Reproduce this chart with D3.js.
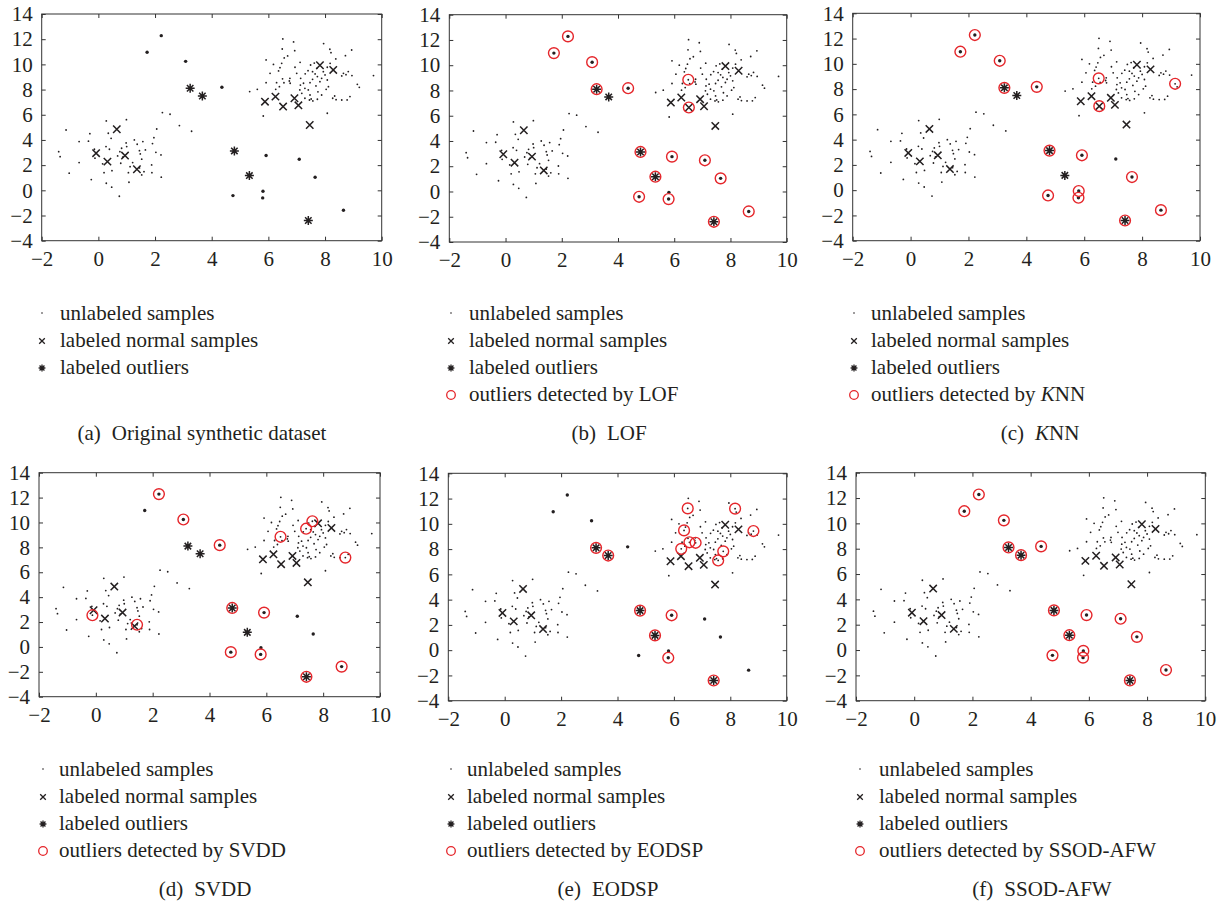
<!DOCTYPE html>
<html>
<head>
<meta charset="utf-8">
<script src="https://cdn.jsdelivr.net/npm/d3@7"></script>
<style>
  html, body { margin: 0; padding: 0; background: #fff; }
  svg text { font-family: "Liberation Serif", "Times New Roman", serif; fill: #231f20; }
</style>
</head>
<body>
<svg id="chart" width="1222" height="904"></svg>
<script>
// ---- data -------------------------------------------------------------
const xTicks = [-2, 0, 2, 4, 6, 8, 10];
const yTicks = [-4, -2, 0, 2, 4, 6, 8, 10, 12, 14];

// unlabeled samples, lower-left cloud
const clusterLow = [
  [-1.14,4.79],[0.28,5.51],[0.99,5.61],[-0.30,4.50],[0.35,4.53],[0.45,4.13],[-0.68,3.87],[-0.35,3.90],
  [2.06,4.87],[1.96,4.18],[1.91,3.71],[-1.40,3.07],[-1.35,2.67],[-0.68,2.20],[-1.03,1.36],[-0.25,0.85],
  [0.28,0.56],[0.47,0.25],[0.74,-0.47],[1.08,0.64],[2.22,1.04],[1.89,1.40],[1.88,2.02],[2.21,2.81],
  [2.03,3.02],[1.66,3.21],[1.57,3.87],[1.27,4.00],[1.37,3.66],[1.45,3.15],[1.48,2.89],[0.98,3.76],
  [0.82,3.34],[0.76,3.07],[1.00,3.47],[0.39,3.26],[0.27,3.47],[0.15,2.10],[0.20,1.40],[0.48,1.56],
  [0.79,2.15],[1.12,1.88],[1.21,2.20],[1.53,2.47],[1.61,1.48],[1.53,1.22],[1.06,1.40],[-0.12,2.55],
  [-0.14,3.26],[0.68,2.73],[0.86,2.63],[1.45,1.78],[2.26,6.17],[2.53,6.04],[2.86,5.14],[3.29,4.69]
];

// unlabeled samples, upper-right cloud
const clusterHigh = [
  [6.51,12.02],[6.89,11.78],[7.95,11.65],[8.17,11.20],[8.21,10.93],[6.49,11.22],[6.68,10.67],[6.56,10.51],
  [6.93,11.09],[5.92,10.35],[6.18,10.00],[6.47,10.08],[6.41,9.74],[6.36,9.48],[7.12,10.16],[7.62,10.10],
  [8.72,10.69],[8.94,11.14],[7.71,9.69],[7.40,9.50],[7.49,9.95],[6.94,9.77],[6.06,9.29],[5.92,8.55],
  [6.26,8.02],[6.50,8.85],[6.74,8.68],[6.55,8.54],[6.77,8.50],[7.14,8.89],[7.24,8.50],[7.29,8.10],
  [7.47,8.55],[7.56,8.81],[7.65,9.24],[7.73,9.03],[7.82,8.63],[7.88,8.89],[8.00,9.16],[8.08,8.76],
  [8.12,8.23],[8.04,8.02],[7.75,7.82],[7.68,8.29],[7.41,7.97],[7.18,7.70],[7.29,7.31],[7.45,7.17],
  [7.51,7.25],[7.57,7.10],[7.73,7.23],[7.47,7.57],[7.11,7.97],[7.13,8.36],[7.00,9.29],[7.30,9.25],
  [7.56,9.42],[7.94,9.42],[8.08,9.77],[8.18,10.08],[8.38,10.43],[8.65,9.29],[8.82,9.43],[8.74,9.18],
  [8.59,9.08],[8.88,7.44],[8.78,7.18],[8.59,7.17],[8.34,7.49],[8.27,7.31],[8.39,7.20],[8.08,6.12],
  [5.82,5.90],[5.34,7.84],[5.61,8.02],[9.71,9.11],[9.14,8.42],[9.21,8.18],[8.95,9.11],[6.29,8.55],
  [6.39,8.23],[6.76,8.89],[7.88,7.57]
];

// unlabeled samples lying far from both clouds
const isolated = [
  [2.22,12.28],[1.72,10.96],[3.08,10.24],[4.36,8.18],[5.92,2.76],[7.09,2.47],
  [7.65,1.04],[4.75,-0.42],[5.81,-0.07],[5.80,-0.60],[8.65,-1.58]
];

const labeledNormal = [
  [-0.08,2.95],[0.32,2.28],[0.65,4.85],[0.94,2.76],[1.36,1.67],[5.88,7.04],[6.25,7.44],
  [6.52,6.65],[6.92,7.31],[7.06,6.75],[7.46,5.19],[7.82,9.93],[8.29,9.56]
];

const labeledOutliers = [[3.24,8.10],[3.67,7.49],[4.80,3.13],[5.33,1.17],[7.41,-2.40]];

// samples flagged as outliers by each method
const detectedLOF = [
  [1.72,10.96],[2.22,12.28],[3.08,10.24],[3.24,8.10],[4.36,8.18],[6.50,8.85],[6.52,6.65],[4.80,3.13],
  [5.92,2.76],[7.09,2.47],[5.33,1.17],[7.65,1.04],[4.75,-0.42],[5.80,-0.60],[8.65,-1.58],[7.41,-2.40]
];
const detectedKNN = [
  [1.72,10.96],[2.22,12.28],[3.08,10.24],[3.24,8.10],[4.36,8.18],[6.50,8.85],[6.52,6.65],[9.14,8.42],
  [4.80,3.13],[5.92,2.76],[7.65,1.04],[4.75,-0.42],[5.81,-0.07],[5.80,-0.60],[8.65,-1.58],[7.41,-2.40]
];
const detectedSVDD = [
  [2.22,12.28],[3.08,10.24],[4.36,8.18],[6.50,8.85],[7.40,9.50],[7.62,10.10],[8.78,7.18],[-0.12,2.55],
  [1.45,1.78],[4.80,3.13],[5.92,2.76],[4.75,-0.42],[5.80,-0.60],[8.65,-1.58],[7.41,-2.40]
];
const detectedEODSP = [
  [3.24,8.10],[3.67,7.49],[6.49,11.22],[6.36,9.48],[6.55,8.54],[6.77,8.50],[6.26,8.02],[8.17,11.20],
  [8.82,9.43],[7.75,7.82],[7.57,7.10],[4.80,3.13],[5.92,2.76],[5.33,1.17],[5.80,-0.60],[7.41,-2.40]
];
const detectedSSODAFW = [
  [1.72,10.96],[2.22,12.28],[3.08,10.24],[3.24,8.10],[3.67,7.49],[4.36,8.18],[4.80,3.13],[5.92,2.76],
  [7.09,2.47],[7.65,1.04],[5.33,1.17],[4.75,-0.42],[5.81,-0.07],[5.80,-0.60],[8.65,-1.58],[7.41,-2.40]
];

const panelLetters = ["(a)", "(b)", "(c)", "(d)", "(e)", "(f)"];
const panelTitles = ["Original synthetic dataset", "LOF", "KNN", "SVDD", "EODSP", "SSOD-AFW"];
const methodNames = [null, "LOF", "KNN", "SVDD", "EODSP", "SSOD-AFW"];
const detectedSets = [null, detectedLOF, detectedKNN, detectedSVDD, detectedEODSP, detectedSSODAFW];
const legendLabels = ["unlabeled samples", "labeled normal samples", "labeled outliers", "outliers detected by "];

// ---- layout -----------------------------------------------------------
// plot: [left, right, top, bottom]; legend: [marker x, first row y, text offset]; caption: [cx, cy]
const layout = [
  { plot: [41.7, 381.7, 14.0, 240.7],  legend: [42, 313, 18],  caption: [202, 433] },
  { plot: [449.3, 786.7, 14.7, 242.0], legend: [451, 313, 18], caption: [609, 433] },
  { plot: [852.7, 1200, 13.3, 240.7],  legend: [854, 313, 17], caption: [1040, 433] },
  { plot: [39.0, 380.0, 472.7, 696.7], legend: [43, 769, 16],  caption: [205, 889] },
  { plot: [448.3, 786.7, 473.3, 700.7],legend: [451, 769, 16], caption: [608, 889] },
  { plot: [856, 1205.3, 472.7, 700.7], legend: [860, 769, 19], caption: [1042, 889] }
];

const INK = "#231f20";
const RED = "#e5262b";
const svg = d3.select("#chart");

function crossPath(cx, cy, h) {
  return `M${cx - h},${cy - h}L${cx + h},${cy + h}M${cx - h},${cy + h}L${cx + h},${cy - h}`;
}
function starPath(cx, cy, h) {
  const d = h * 0.72;
  return `M${cx - h},${cy}L${cx + h},${cy}M${cx},${cy - h}L${cx},${cy + h}` +
         `M${cx - d},${cy - d}L${cx + d},${cy + d}M${cx - d},${cy + d}L${cx + d},${cy - d}`;
}
const fmt = v => (v < 0 ? "\u2212" + Math.abs(v) : String(v));

layout.forEach((L, i) => {
  const [x0, x1, y0, y1] = L.plot;
  const x = d3.scaleLinear().domain([-2, 10]).range([x0, x1]);
  const y = d3.scaleLinear().domain([-4, 14]).range([y1, y0]);
  const g = svg.append("g");

  // frame with inward ticks on all four sides
  g.append("rect").attr("x", x0).attr("y", y0).attr("width", x1 - x0).attr("height", y1 - y0)
    .attr("fill", "none").attr("stroke", "#333").attr("stroke-width", 1);

  const tk = 4;
  const axB = d3.axisBottom(x).tickValues(xTicks).tickSizeInner(-tk).tickSizeOuter(0).tickPadding(10).tickFormat(fmt);
  const axT = d3.axisTop(x).tickValues(xTicks).tickSizeInner(-tk).tickSizeOuter(0).tickFormat("");
  const axL = d3.axisLeft(y).tickValues(yTicks).tickSizeInner(-tk).tickSizeOuter(0).tickPadding(9).tickFormat(fmt);
  const axR = d3.axisRight(y).tickValues(yTicks).tickSizeInner(-tk).tickSizeOuter(0).tickFormat("");
  [[axB, `translate(0,${y1})`], [axT, `translate(0,${y0})`], [axL, `translate(${x0},0)`], [axR, `translate(${x1},0)`]]
    .forEach(([ax, tr]) => {
      const a = g.append("g").attr("transform", tr).call(ax);
      a.attr("font-family", null).attr("font-size", null);
      a.select(".domain").remove();
      a.selectAll("line").attr("stroke", "#333");
      a.selectAll("text").attr("fill", INK).style("font-size", "21px")
        .style("font-family", "'Liberation Serif', 'Times New Roman', serif");
    });

  // unlabeled samples
  g.selectAll(null).data(clusterLow.concat(clusterHigh)).join("circle")
    .attr("cx", d => x(d[0])).attr("cy", d => y(d[1])).attr("r", 0.9).attr("fill", INK);
  g.selectAll(null).data(isolated).join("circle")
    .attr("cx", d => x(d[0])).attr("cy", d => y(d[1])).attr("r", 1.7).attr("fill", INK);

  // labeled normal samples
  g.selectAll(null).data(labeledNormal).join("path")
    .attr("d", d => crossPath(x(d[0]), y(d[1]), 3.7))
    .attr("stroke", INK).attr("stroke-width", 1.5).attr("fill", "none");

  // labeled outliers
  g.selectAll(null).data(labeledOutliers).join("path")
    .attr("d", d => starPath(x(d[0]), y(d[1]), 4.5))
    .attr("stroke", INK).attr("stroke-width", 1.5).attr("fill", "none");

  // detected outliers
  if (detectedSets[i]) {
    g.selectAll(null).data(detectedSets[i]).join("circle")
      .attr("cx", d => x(d[0])).attr("cy", d => y(d[1])).attr("r", 5.4)
      .attr("fill", "none").attr("stroke", RED).attr("stroke-width", 1.4);
  }

  // legend
  const [mx, ly, off] = L.legend;
  const rows = methodNames[i] ? 4 : 3;
  const step = 27;
  for (let r = 0; r < rows; r++) {
    const cy = ly + r * step;
    if (r === 0) g.append("circle").attr("cx", mx).attr("cy", cy).attr("r", 0.8).attr("fill", INK);
    if (r === 1) g.append("path").attr("d", crossPath(mx, cy + 1, 2.8)).attr("stroke", INK).attr("stroke-width", 1.3);
    if (r === 2) g.append("path").attr("d", starPath(mx, cy + 1, 3.4)).attr("stroke", INK).attr("stroke-width", 1.3);
    if (r === 3) g.append("circle").attr("cx", mx).attr("cy", cy + 1).attr("r", 4.3)
      .attr("fill", "none").attr("stroke", RED).attr("stroke-width", 1.3);
    const t = g.append("text").attr("x", mx + off).attr("y", cy).attr("dy", "0.35em").style("font-size", "21px");
    if (r < 3) t.text(legendLabels[r]);
    else {
      t.append("tspan").text(legendLabels[3]);
      const m = methodNames[i];
      if (m === "KNN") {
        t.append("tspan").style("font-style", "italic").text("K");
        t.append("tspan").text("NN");
      } else t.append("tspan").text(m);
    }
  }

  // caption
  const [cx, cy] = L.caption;
  const c = g.append("text").attr("x", cx).attr("y", cy).attr("dy", "0.35em")
    .attr("text-anchor", "middle").style("font-size", "21px");
  c.append("tspan").text(panelLetters[i]);
  const title = panelTitles[i];
  if (title === "KNN") {
    c.append("tspan").attr("dx", 11).style("font-style", "italic").text("K");
    c.append("tspan").text("NN");
  } else c.append("tspan").attr("dx", 11).text(title);
});
</script>
</body>
</html>
